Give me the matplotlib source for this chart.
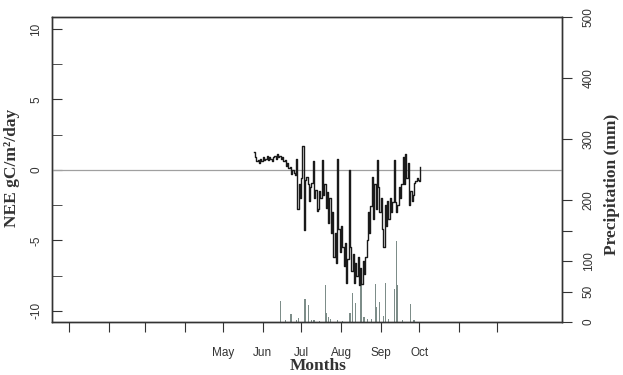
import numpy as np
import matplotlib.pyplot as plt

# daily NEE (gC/m2/day), starting at day-of-year 145
start_day = 145
nee = [1.3, 0.9, 0.6, 0.7, 0.5, 0.8, 0.6, 0.9, 0.7, 0.8,
       1.0, 0.7, 0.9, 0.8, 0.6, 0.9, 1.0, 0.8, 1.1, 0.9,
       1.0, 0.8, 0.9, 0.6, 0.7, 0.3, 0.5, 0.1, 0.2, -0.3,
       0.0,
       -0.2, -0.4, 0.8, -2.8, -1.0, -2.0, -0.6, 1.7, -4.3, -0.7,
       -0.5, -1.0, -2.2, -1.2, -0.9, 0.6, -2.0, -1.4, -2.9, -2.8,
       -1.5, -2.0, 0.7, -1.8, -1.0, -2.7, -1.6, -3.8, -2.0, -4.5,
       -3.0, -6.2, -4.5, -6.6, 0.8, -4.2, -5.8, -4.0, -5.5, -6.8,
       -5.2, -8.0, -6.3, 0.0, -5.5, -7.2, -6.0, -8.0, -6.6, -7.5,
       -6.2, -8.2, -7.0, -8.1, -6.5, -7.4, -6.2, -5.0, -3.0, -4.5,
       -2.6, -0.5, -3.5, -1.0, -2.8, 0.7, -1.2, -3.0, -2.0, -4.2,
       -5.5, -2.5, -4.0, -2.2, -3.5, -2.0, -3.0, -2.3, 0.7, -2.3,
       -3.0, -2.5, -1.2, -2.0, -1.0, 0.9, -1.0, 1.1, -0.6, 0.5,
       -2.5, -1.5, -2.2, -1.8, -0.9, -0.8, -0.6, -0.7, -0.8, 0.2]
days = np.arange(start_day, start_day + len(nee))

# daily precipitation (mm)
rain_days = [166, 170, 174, 178, 180, 185, 188, 190, 192, 196, 201, 202, 203,
             205, 210, 214, 220, 222, 224, 228, 229, 231, 234, 237, 240, 241,
             243, 246, 248, 250, 255, 256, 257, 261, 267, 270]
rain_mm = [34, 3, 13, 4, 6, 37, 28, 4, 3, 2, 60, 15, 8,
           5, 3, 2, 15, 47, 31, 62, 62, 8, 5, 5, 62, 25,
           33, 10, 64, 5, 54, 133, 60, 3, 30, 3]

month_days = [1, 32, 60, 91, 121, 152, 182, 213, 244, 274, 305, 335]
month_labels = ['', '', '', '', 'May', 'Jun', 'Jul', 'Aug', 'Sep', 'Oct', '', '']

sans = 'Liberation Sans'
serif = 'Liberation Serif'

fig = plt.figure(figsize=(6.23, 3.75), dpi=100)
ax = fig.add_axes([0.0835, 0.1413, 0.8185, 0.8134])
ax2 = ax.twinx()

# precipitation as thin bars on the right axis
ax2.bar(rain_days, rain_mm, width=0.9, color='#7d8d89')
ax2.set_ylim(0, 500)
ax2.set_yticks([0, 50, 100, 150, 200, 300, 400, 500])
ax2.set_yticklabels(['0', '50', '100', '', '200', '300', '400', '500'],
                    fontfamily=sans, fontsize=8.5, color='#333333')
ax2.tick_params(axis='y', direction='out', length=7, pad=8, color='#333333')
for lbl in ax2.get_yticklabels():
    lbl.set_rotation(90)
    lbl.set_va('center')

# NEE on top
ax.set_zorder(ax2.get_zorder() + 1)
ax.patch.set_visible(False)
ax.axhline(0, color='#a0a0a0', lw=0.9)
ax.plot(days, nee, drawstyle='steps-post', color='#1a1a1a', lw=1.0)
ax.set_xlim(-12.3, 385.3)
ax.set_ylim(-10.8, 10.85)

ax.set_yticks([-10, -5, 0, 5, 10])
ax.set_yticks([-7.5, -2.5, 2.5, 7.5], minor=True)
ax.set_yticklabels(['-10', '-5', '0', '5', '10'], fontfamily=sans,
                   fontsize=8.5, color='#333333')
ax.tick_params(axis='y', which='both', direction='in', length=7, pad=7,
               color='#333333')
for lbl in ax.get_yticklabels():
    lbl.set_rotation(90)
    lbl.set_va('center')

ax.set_xticks(month_days)
ax.set_xticklabels(month_labels, fontfamily=sans, fontsize=8.5,
                   color='#333333')
ax.tick_params(axis='x', direction='out', length=7, pad=11, color='#333333')

for a in (ax, ax2):
    for s in a.spines.values():
        s.set_color('#333333')
        s.set_linewidth(1.0)

fig.text(12 / 623, 1 - 168 / 375, 'NEE gC/m\u00b2/day', rotation=90,
         ha='center', va='center', fontfamily=serif, fontweight='bold',
         fontsize=12.5, color='#333333')
fig.text(612 / 623, 1 - 184 / 375, 'Precipitation (mm)', rotation=90,
         ha='center', va='center', fontfamily=serif, fontweight='bold',
         fontsize=12.5, color='#333333')
fig.text(318 / 623, 1 - 366 / 375, 'Months', ha='center', va='center',
         fontfamily=serif, fontweight='bold', fontsize=12.5, color='#333333')

fig.savefig('out.png', dpi=100)
